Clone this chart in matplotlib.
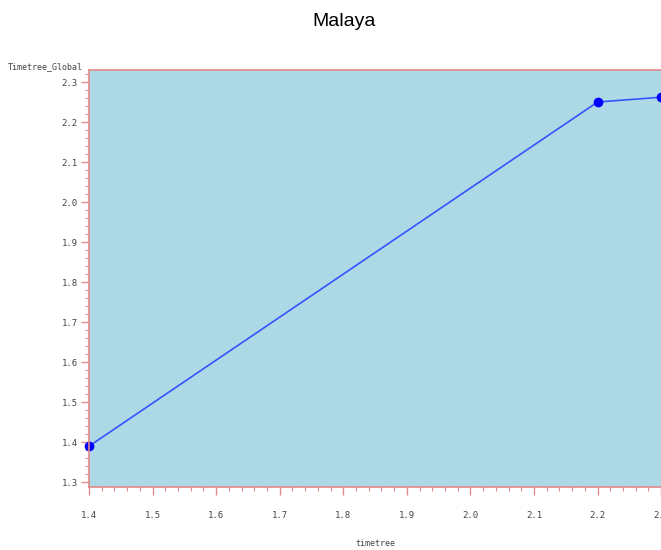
import matplotlib

matplotlib.use("Agg")
import matplotlib.pyplot as plt
from matplotlib.ticker import MultipleLocator

# data
timetree = [1.4, 2.2, 2.3]
timetree_global = [1.39, 2.25, 2.262]
x_ticks = [1.4, 1.5, 1.6, 1.7, 1.8, 1.9, 2.0, 2.1, 2.2, 2.3]
y_ticks = [1.3, 1.4, 1.5, 1.6, 1.7, 1.8, 1.9, 2.0, 2.1, 2.2, 2.3]

spine_col = "#e08a8a"
mono = "DejaVu Sans Mono"

fig = plt.figure(figsize=(6.61, 5.5), dpi=100)
# axes extend past the right edge, as in the reference
ax = fig.add_axes([89 / 661, 1 - 487 / 550, 604 / 661, (487 - 70) / 550])
ax.set_facecolor("#add8e6")

ax.plot(timetree, timetree_global, color="#3355ff", linewidth=1.2,
        marker="o", markersize=6, markerfacecolor="#0000ff",
        markeredgecolor="#0000ff", clip_on=False)

ax.set_xlim(1.4, 2.35)
ax.set_ylim(1.288, 2.33)
ax.set_xticks(x_ticks)
ax.set_xticklabels([f"{v:.1f}" for v in x_ticks], fontsize=6.5, family=mono, color="#444444")
ax.set_yticks(y_ticks)
ax.set_yticklabels([f"{v:.1f}" for v in y_ticks], fontsize=6.5, family=mono, color="#444444")
ax.xaxis.set_minor_locator(MultipleLocator(0.02))
ax.yaxis.set_minor_locator(MultipleLocator(0.02))
ax.tick_params(axis="both", which="major", color=spine_col, length=6, width=1, direction="out")
ax.tick_params(axis="both", which="minor", color=spine_col, length=3, width=0.8, direction="out")
ax.tick_params(axis="x", pad=11)
ax.tick_params(axis="y", pad=2)

for side in ["top", "left", "bottom", "right"]:
    ax.spines[side].set_color(spine_col)
    ax.spines[side].set_linewidth(1.2)

fig.text(344 / 661, 1 - 22 / 550, "Malaya", ha="center", va="center", fontsize=14,
         family=["Liberation Sans Narrow", "Liberation Sans", "DejaVu Sans"])
fig.text(45 / 661, 1 - 67 / 550, "Timetree_Global", ha="center", va="center",
         fontsize=6, family=mono, color="#444444")
fig.text(375 / 661, 1 - 543 / 550, "timetree", ha="center", va="center",
         fontsize=6, family=mono, color="#444444")

fig.savefig("out.png", dpi=100)
